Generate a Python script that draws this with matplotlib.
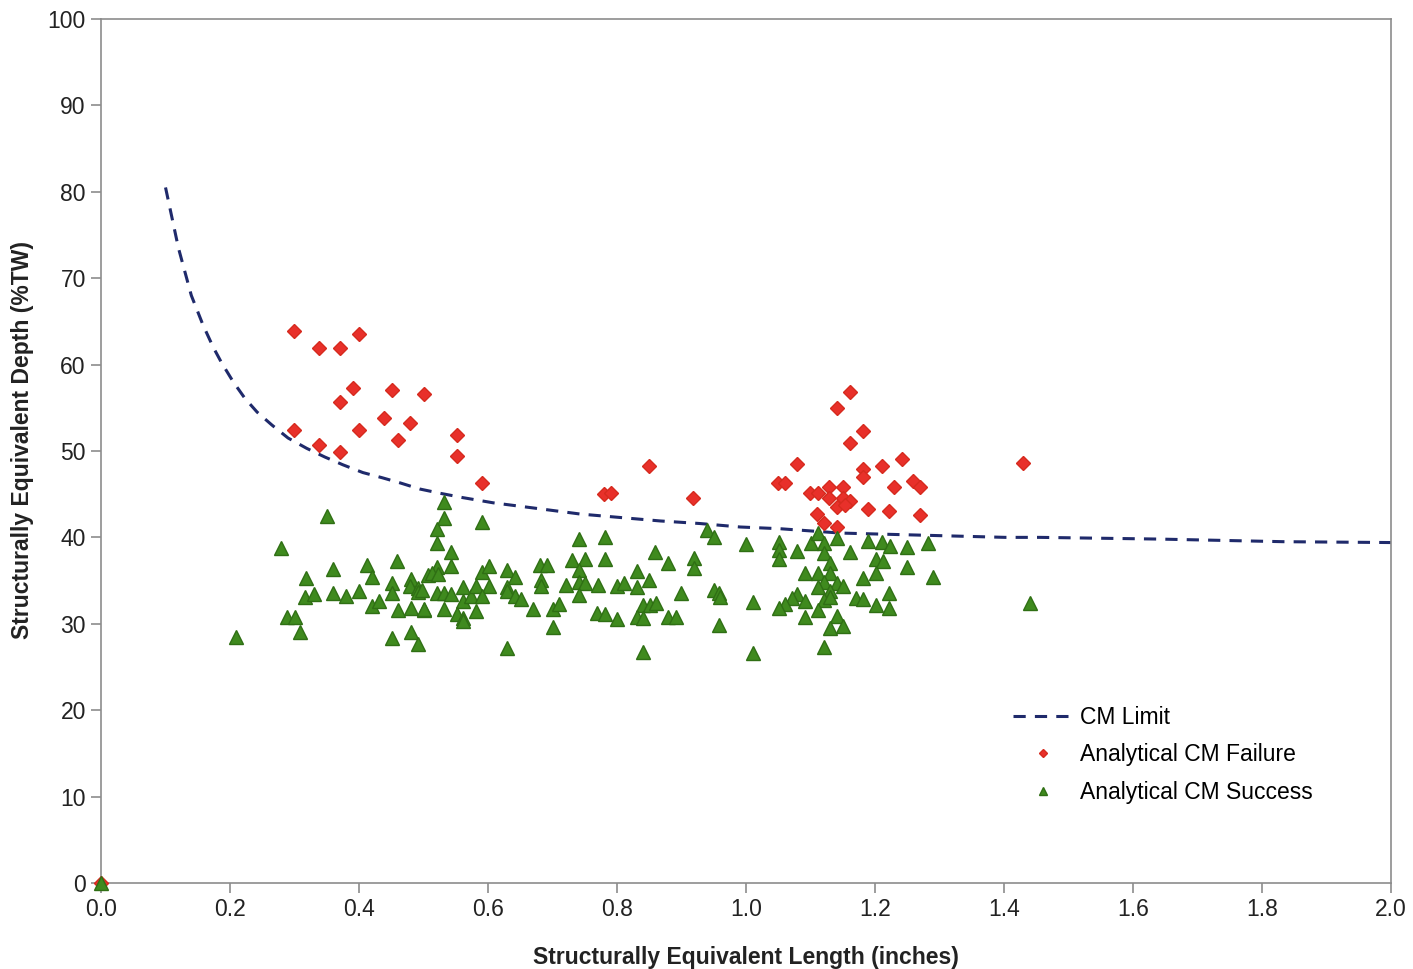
import matplotlib
matplotlib.use("Agg")
import matplotlib.pyplot as plt

plt.rcParams["font.family"] = ["Liberation Sans", "DejaVu Sans"]

# CM limit curve (length in inches, depth in %TW)
limit_len = [0.10, 0.12, 0.14, 0.158, 0.174, 0.187, 0.205, 0.223, 0.242, 0.265, 0.29,
             0.319, 0.347, 0.375, 0.406, 0.436, 0.464, 0.494, 0.526, 0.561, 0.608,
             0.681, 0.743, 0.805, 0.867, 0.929, 0.991, 1.053, 1.146, 1.30, 1.402,
             1.456, 1.642, 1.833, 2.0]
limit_depth = [80.5, 73.5, 68.0, 64.6, 62.0, 60.2, 58.0, 56.1, 54.5, 53.0, 51.5,
               50.3, 49.3, 48.4, 47.5, 46.9, 46.3, 45.6, 45.1, 44.6, 44.0,
               43.3, 42.7, 42.3, 41.9, 41.6, 41.2, 41.0, 40.5, 40.2, 40.0,
               40.0, 39.8, 39.5, 39.4]

# analytical failures
fail_len = [0.0, 0.299, 0.338, 0.371, 0.400, 0.391, 0.451, 0.371, 0.501, 0.439, 0.479,
            0.400, 0.299, 0.460, 0.552, 0.552, 0.338, 0.371, 0.591, 0.780, 0.791,
            0.850, 0.918,
            1.161, 1.141, 1.181, 1.161, 1.079, 1.050, 1.060, 1.242, 1.211, 1.181,
            1.181, 1.099, 1.112, 1.129, 1.150, 1.129, 1.150, 1.161, 1.141, 1.153,
            1.229, 1.259, 1.270, 1.189, 1.222, 1.270, 1.110, 1.121, 1.141, 1.429]
fail_depth = [0.0, 63.9, 61.9, 61.9, 63.5, 57.3, 57.1, 55.7, 56.6, 53.8, 53.2,
              52.4, 52.4, 51.3, 51.9, 49.4, 50.7, 49.9, 46.3, 45.0, 45.1,
              48.3, 44.6,
              56.8, 55.0, 52.3, 50.9, 48.5, 46.3, 46.3, 49.1, 48.3, 47.9,
              47.0, 45.1, 45.1, 45.8, 45.8, 44.6, 44.6, 44.2, 43.5, 43.8,
              45.8, 46.5, 45.8, 43.3, 43.1, 42.6, 42.7, 41.7, 41.2, 48.6]

# analytical successes
ok_len = [0.0,
          0.350, 0.279, 0.318, 0.360, 0.412, 0.459, 0.420, 0.451, 0.481, 0.479,
          0.491, 0.316, 0.330, 0.360, 0.380, 0.400, 0.451, 0.491, 0.420, 0.431,
          0.460, 0.481, 0.501, 0.288, 0.301, 0.309, 0.209, 0.451, 0.481, 0.491,
          0.507,
          0.532, 0.532, 0.521, 0.521, 0.543, 0.543, 0.591, 0.521, 0.513, 0.522,
          0.498, 0.521, 0.532, 0.543, 0.501, 0.532, 0.561, 0.561, 0.574, 0.581,
          0.591, 0.602, 0.602, 0.591, 0.581, 0.552, 0.561, 0.561, 0.629, 0.642,
          0.629, 0.629, 0.642, 0.651, 0.670, 0.701, 0.710, 0.701, 0.629, 0.681,
          0.691, 0.682, 0.682, 0.721, 0.730, 0.750, 0.741, 0.741, 0.741, 0.750,
          0.741, 0.771, 0.781, 0.781, 0.769, 0.781, 0.800, 0.811, 0.800,
          0.940, 0.950, 0.859, 0.879, 0.919, 0.919, 0.831, 0.831, 0.850, 0.899,
          0.950, 0.958, 0.960, 0.840, 0.851, 0.860, 0.831, 0.840, 0.879, 0.891,
          0.958, 0.840, 1.000, 1.011, 1.011,
          1.051, 1.051, 1.051, 1.079, 1.101, 1.112, 1.121, 1.141, 1.121, 1.130,
          1.161, 1.189, 1.211, 1.223, 1.250, 1.202, 1.212, 1.202, 1.250, 1.091,
          1.112, 1.130, 1.181, 1.121, 1.141, 1.150, 1.112, 1.130, 1.079, 1.091,
          1.071, 1.060, 1.051, 1.121, 1.130, 1.112, 1.171, 1.181, 1.202, 1.222,
          1.222, 1.141, 1.091, 1.130, 1.150, 1.121,
          1.282, 1.290, 1.440]
ok_depth = [0.0,
            42.5, 38.8, 35.3, 36.3, 36.8, 37.3, 35.4, 34.7, 35.2, 34.4,
            34.1, 33.1, 33.4, 33.6, 33.2, 33.8, 33.6, 33.7, 32.1, 32.6,
            31.6, 31.8, 31.6, 30.8, 30.8, 29.1, 28.5, 28.4, 29.1, 27.7,
            35.6,
            44.1, 42.2, 41.0, 39.4, 38.3, 36.7, 41.8, 36.6, 35.9, 35.8,
            33.9, 33.6, 33.6, 33.4, 31.7, 31.7, 34.3, 32.6, 33.2, 34.4,
            36.0, 36.7, 34.4, 33.2, 31.5, 31.1, 30.7, 30.3, 36.2, 35.4,
            34.3, 33.8, 33.2, 32.9, 31.7, 31.7, 32.3, 29.6, 27.2, 36.8,
            36.8, 35.1, 34.4, 34.5, 37.4, 37.5, 36.2, 39.8, 34.8, 34.7,
            33.3, 34.5, 40.0, 37.5, 31.3, 31.1, 34.4, 34.7, 30.6,
            40.9, 40.0, 38.3, 37.0, 37.6, 36.5, 36.1, 34.3, 35.1, 33.6,
            33.9, 33.6, 33.1, 32.2, 32.2, 32.4, 30.8, 30.7, 30.8, 30.8,
            29.9, 26.7, 39.2, 32.5, 26.6,
            39.5, 38.5, 37.5, 38.4, 39.4, 40.5, 39.4, 39.9, 38.2, 37.0,
            38.3, 39.6, 39.5, 39.0, 38.9, 37.5, 37.3, 35.9, 36.6, 35.9,
            35.9, 35.9, 35.3, 34.8, 34.7, 34.4, 34.3, 33.8, 33.4, 32.6,
            33.0, 32.3, 31.8, 32.8, 33.1, 31.6, 33.0, 32.9, 32.2, 33.6,
            31.8, 30.9, 30.8, 29.5, 29.7, 27.3,
            39.4, 35.4, 32.4]

fig = plt.figure(figsize=(14.13, 9.69), dpi=100)
ax = fig.add_axes([0.0715, 0.0888, 0.9129, 0.8916])

ax.plot(limit_len, limit_depth, color="#1f2a6b", linestyle=(0, (4, 3)), linewidth=2.2,
        label="CM Limit", zorder=2)
ax.plot(fail_len, fail_depth, linestyle="none", marker="D", markersize=7.5,
        color="#e8302a", markeredgecolor="#d62a1e", label="Analytical CM Failure",
        zorder=3, clip_on=False)
ax.plot(ok_len, ok_depth, linestyle="none", marker="^", markersize=9.5,
        color="#3f8a1e", markeredgecolor="#2f6f14", label="Analytical CM Success",
        zorder=4, clip_on=False)

ax.set_xlim(0, 2.0)
ax.set_ylim(0, 100)
ax.set_xticks([i * 0.2 for i in range(11)])
ax.set_xticklabels(["%.1f" % (i * 0.2) for i in range(11)])
ax.set_yticks(range(0, 101, 10))

for side in ax.spines.values():
    side.set_color("#8c8c8c")
    side.set_linewidth(1.2)
ax.tick_params(direction="out", length=7, width=1.2, color="#8c8c8c",
               labelsize=16.5, labelcolor="#222222", pad=4)

ax.set_xlabel("Structurally Equivalent Length (inches)", fontsize=16.5,
              fontweight="bold", color="#222222", labelpad=18)
ax.set_ylabel("Structurally Equivalent Depth (%TW)", fontsize=16.5,
              fontweight="bold", color="#222222")
ax.yaxis.set_label_coords(-0.052, 0.513)

ax.legend(loc="lower right", bbox_to_anchor=(0.955, 0.068), frameon=False,
          fontsize=16.5, markerscale=0.6, handlelength=2.6, handletextpad=0.3,
          labelspacing=0.62)

fig.savefig("out.png", dpi=100)
